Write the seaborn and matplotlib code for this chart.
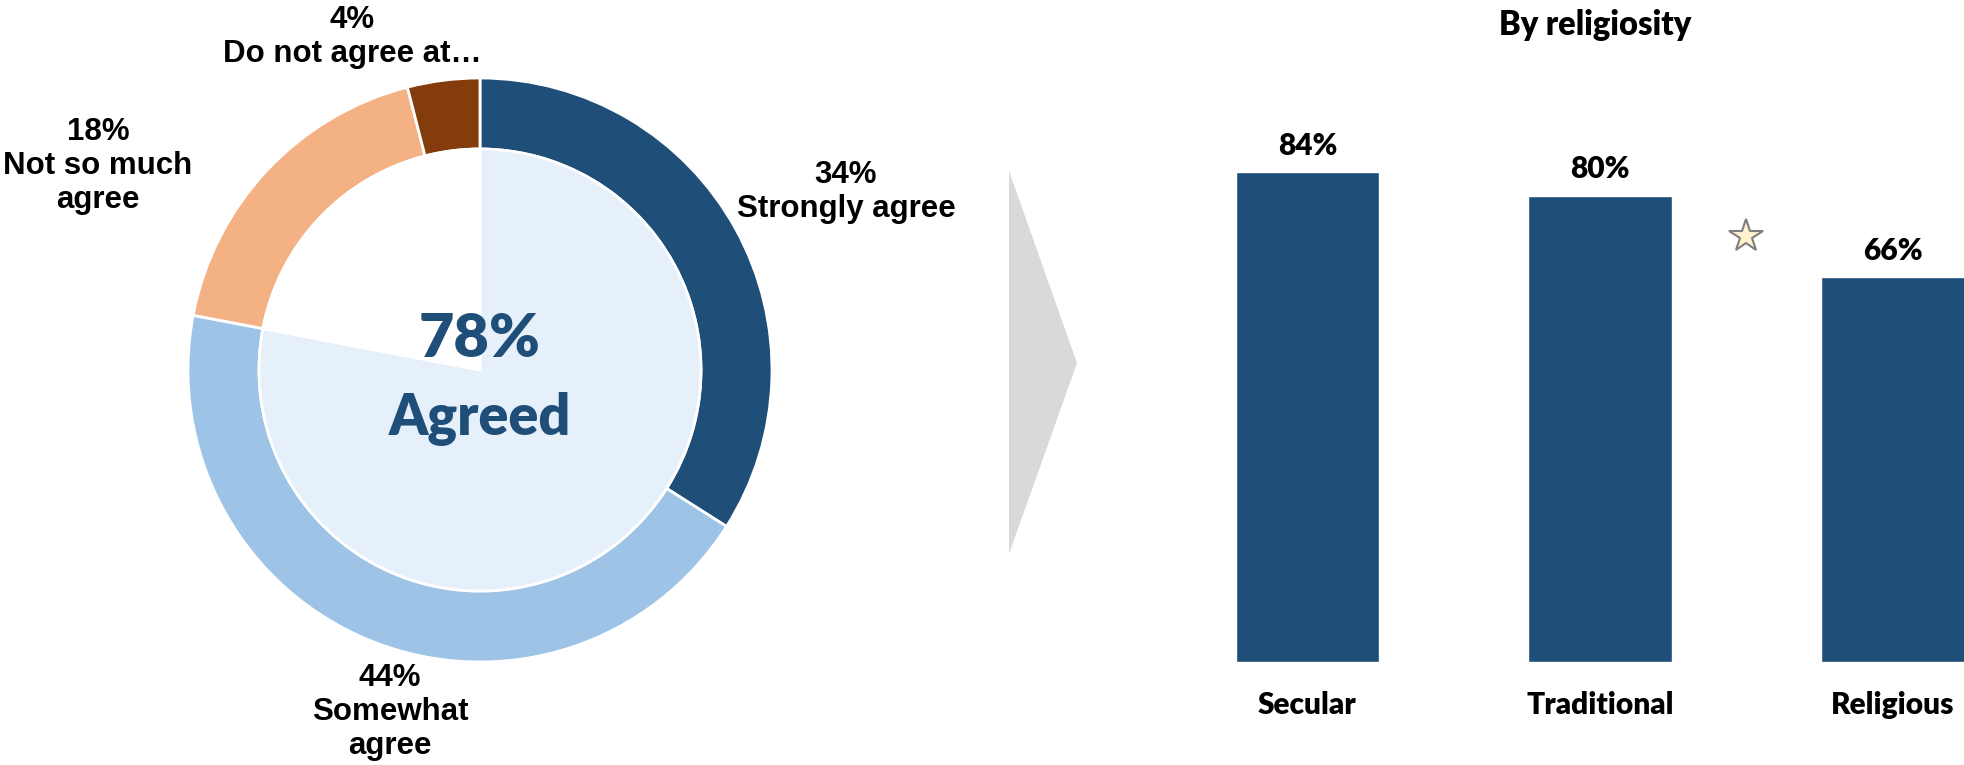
import matplotlib
matplotlib.use("Agg")
import matplotlib.pyplot as plt
from matplotlib.patches import Polygon
import seaborn as sns

# Overall agreement distribution (outer ring, clockwise from 12 o'clock)
response_labels = ["Strongly agree", "Somewhat\nagree", "Not so much\nagree", "Do not agree at…"]
response_shares = [34, 44, 18, 4]
response_colors = ["#1F4E79", "#9DC3E6", "#F4B183", "#843C0C"]
agreed_total = response_shares[0] + response_shares[1]

# Agreement by religiosity
groups = ["Secular", "Traditional", "Religious"]
group_agree = [84, 80, 66]

W, H = 1965, 765
sns.set_style("white")
plt.rcParams["font.family"] = ["Liberation Sans", "DejaVu Sans"]
HUMANIST = ["Lato", "DejaVu Sans"]
HEAVY = "heavy"
NAVY = "#1F4E79"

fig = plt.figure(figsize=(W / 100, H / 100), dpi=100)


def fig_xy(x, y_top):
    """Pixel position measured from the top-left corner -> figure fraction."""
    return x / W, 1 - y_top / H


# ---------------- donut ----------------
cx, cy = 480, 370
r_out, r_in = 292, 221
side = 600
ax1 = fig.add_axes([(cx - side / 2) / W, (H - cy - side / 2) / H, side / W, side / H])
ax1.pie(response_shares, radius=r_out, colors=response_colors, startangle=90,
        counterclock=False,
        wedgeprops=dict(width=r_out - r_in, edgecolor="white", linewidth=2))
ax1.pie([agreed_total, 100 - agreed_total], radius=r_in, colors=["#E6F0FA", "white"],
        startangle=90, counterclock=False,
        wedgeprops=dict(edgecolor="white", linewidth=2))
ax1.set_xlim(-side / 2, side / 2)
ax1.set_ylim(-side / 2, side / 2)
ax1.set_aspect("equal")
ax1.axis("off")

label_offsets = [(366, 178), (-90, -342), (-382, 204), (-128, 333)]
for share, name, (dx, dy) in zip(response_shares, response_labels, label_offsets):
    ax1.text(dx, dy, f"{share}%\n{name}", ha="center", va="center",
             fontsize=22.5, fontweight="bold", color="black",
             linespacing=1.18, clip_on=False)

ax1.text(0, 13, f"{agreed_total}%", ha="center", va="baseline", fontsize=44,
         fontweight=HEAVY, color=NAVY, family=HUMANIST)
ax1.text(0, -65, "Agreed", ha="center", va="baseline", fontsize=40,
         fontweight=HEAVY, color=NAVY, family=HUMANIST)

# ---------------- connector arrow ----------------
arrow = Polygon([fig_xy(1009, 171), fig_xy(1077, 363), fig_xy(1009, 554)],
                closed=True, transform=fig.transFigure,
                facecolor="#D9D9D9", edgecolor="none")
fig.add_artist(arrow)

# ---------------- bars by religiosity ----------------
ax2 = fig.add_axes([1161 / W, 103 / H, 805 / W, 583 / H])
sns.barplot(x=groups, y=group_agree, color=NAVY, saturation=1, width=0.49, ax=ax2)
ax2.set_xlim(-0.5, 2.25)
ax2.set_ylim(0, 100)
for cont in ax2.containers:
    ax2.bar_label(cont, labels=[f"{v}%" for v in group_agree], padding=9,
                  fontsize=21.5, fontweight=HEAVY, family=HUMANIST, color="black")
ax2.set_xticks(range(len(groups)))
ax2.set_xticklabels(groups, fontsize=21.5, fontweight=HEAVY, family=HUMANIST,
                    color="black")
ax2.tick_params(axis="x", length=0, pad=21)
ax2.set_yticks([])
ax2.set_xlabel("")
ax2.set_ylabel("")
sns.despine(ax=ax2, left=True, bottom=True)

# significance star between Traditional and Religious
ax2.plot([1.5], [73], marker="*", markersize=25, markerfacecolor="#FFF2CC",
         markeredgecolor="#7F7F7F", markeredgewidth=1.5, clip_on=False)

fig.text(*fig_xy(1595, 25), "By religiosity", ha="center", va="center",
         fontsize=23.5, fontweight=HEAVY, family=HUMANIST, color="black")

fig.savefig("out.png", dpi=100)
